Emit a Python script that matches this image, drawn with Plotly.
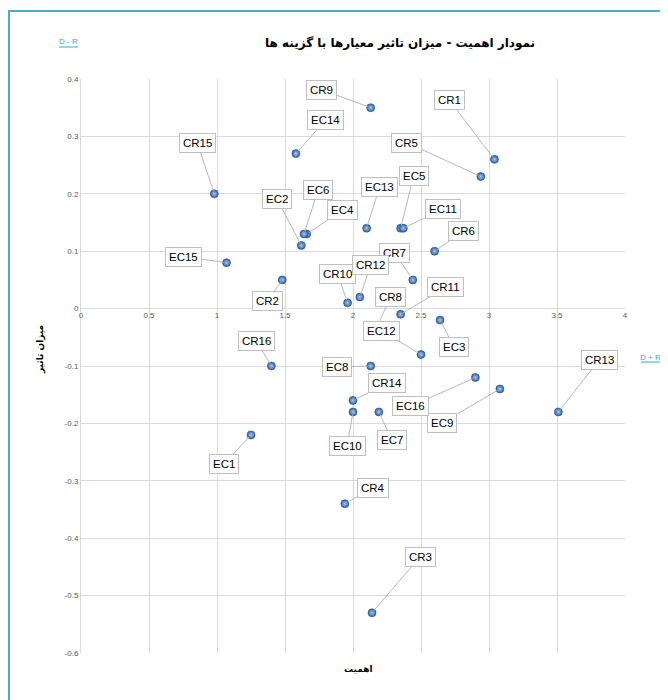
import plotly.graph_objects as go

# ---- data ----
names = ["CR1", "CR2", "CR3", "CR4", "CR5", "CR6", "CR7", "CR8",
         "CR9", "CR10", "CR11", "CR12", "CR13", "CR14", "CR15", "CR16",
         "EC1", "EC2", "EC3", "EC4", "EC5", "EC6", "EC7", "EC8",
         "EC9", "EC10", "EC11", "EC12", "EC13", "EC14", "EC15", "EC16"]
d_plus_r = [3.04, 1.48, 2.14, 1.94, 2.94, 2.60, 2.44, 2.18,
            2.13, 1.96, 2.35, 2.05, 3.51, 2.00, 0.98, 1.40,
            1.25, 1.62, 2.64, 1.66, 2.35, 1.64, 2.19, 2.13,
            3.08, 2.00, 2.37, 2.50, 2.10, 1.58, 1.07, 2.90]
d_minus_r = [0.26, 0.05, -0.53, -0.34, 0.23, 0.10, 0.05, -0.03,
             0.35, 0.01, -0.01, 0.02, -0.18, -0.16, 0.20, -0.10,
             -0.22, 0.11, -0.02, 0.13, 0.14, 0.13, -0.18, -0.10,
             -0.14, -0.18, 0.14, -0.08, 0.14, 0.27, 0.08, -0.12]
x_ticks = [0, 0.5, 1, 1.5, 2, 2.5, 3, 3.5, 4]
y_ticks = [0.4, 0.3, 0.2, 0.1, 0, -0.1, -0.2, -0.3, -0.4, -0.5, -0.6]

title_text = "نمودار اهمیت - میزان تاثیر معیارها با گزینه ها"
x_title = "اهمیت"
y_title = "میزان تاثیر"

# ---- label placement (pixel offsets of each callout from its point) ----
label_offsets = {
    "CR1": (-45, -59), "CR2": (-15, 21), "CR3": (48, -56), "CR4": (28, -16),
    "CR5": (-74, -34), "CR6": (29, -20), "CR7": (-18, -27), "CR8": (13, -29),
    "CR9": (-49, -18), "CR10": (-10, -29), "CR11": (45, -27), "CR12": (11, -32),
    "CR13": (41, -52), "CR14": (34, -17), "CR15": (-17, -51), "CR16": (-15, -25),
    "EC1": (-27, 29), "EC2": (-24, -46), "EC3": (14, 27), "EC4": (36, -24),
    "EC5": (13, -52), "EC6": (14, -44), "EC7": (13, 28), "EC8": (-34, 1),
    "EC9": (-58, 34), "EC10": (-6, 34), "EC11": (40, -19), "EC12": (-40, -24),
    "EC13": (13, -41), "EC14": (30, -34), "EC15": (-43, -6), "EC16": (-65, 29),
}

# page offset of the figure (default body margin of the html page)
OFF = 8
W, H = 668 - OFF, 700 - OFF
# plot area in page pixels: x 81..625, y 79..653
L, T = 81 - OFF, 79 - OFF
R = W - (625 - OFF)
B = H - (653 - OFF)
PW, PH = W - L - R, H - T - B


def px(X):
    """page pixel x -> paper"""
    return (X - OFF - L) / PW


def py(Y):
    """page pixel y -> paper"""
    return (H - B - (Y - OFF)) / PH


fig = go.Figure()
fig.add_trace(go.Scatter(
    x=d_plus_r, y=d_minus_r, mode="markers", text=names,
    marker=dict(size=8, color="#2e62a8",
                gradient=dict(type="radial", color="#a8c8f0"),
                line=dict(color="#24508c", width=0.6)),
    showlegend=False, hoverinfo="text+x+y",
))

annotations = []
for n, xv, yv in zip(names, d_plus_r, d_minus_r):
    ax, ay = label_offsets[n]
    annotations.append(dict(
        x=xv, y=yv, xref="x", yref="y", text=n, showarrow=True,
        ax=ax, ay=ay, arrowhead=0, arrowwidth=1, arrowcolor="#b8b8b8",
        standoff=3, startstandoff=0,
        font=dict(family="Liberation Sans, Arial, sans-serif", size=11.5, color="#000000"),
        bgcolor="#ffffff", bordercolor="#bfbfbf", borderwidth=1, borderpad=3,
    ))

# title and axis titles
annotations.append(dict(x=px(400), y=py(43), xref="paper", yref="paper", text="<b>" + title_text + "</b>",
                        showarrow=False, font=dict(family="DejaVu Sans, sans-serif", size=12, color="#000"),
                        xanchor="center", yanchor="middle"))
annotations.append(dict(x=px(358), y=py(669), xref="paper", yref="paper", text="<b>" + x_title + "</b>",
                        showarrow=False, font=dict(family="DejaVu Sans, sans-serif", size=9, color="#000"),
                        xanchor="center", yanchor="middle"))
annotations.append(dict(x=px(40), y=py(350), xref="paper", yref="paper", text="<b>" + y_title + "</b>",
                        showarrow=False, textangle=-90,
                        font=dict(family="DejaVu Sans, sans-serif", size=9, color="#000"),
                        xanchor="center", yanchor="middle"))
annotations.append(dict(x=px(68), y=py(42), xref="paper", yref="paper", text="D - R",
                        showarrow=False, font=dict(family="Liberation Sans, sans-serif", size=8, color="#29a9e0"),
                        xanchor="center", yanchor="middle"))
annotations.append(dict(x=px(650), y=py(357), xref="paper", yref="paper", text="D + R",
                        showarrow=False, font=dict(family="Liberation Sans, sans-serif", size=8, color="#29a9e0"),
                        xanchor="center", yanchor="middle"))

shapes = []
# underlines for the two link-like labels
shapes.append(dict(type="line", xref="paper", yref="paper", x0=px(59), x1=px(78), y0=py(47), y1=py(47),
                   line=dict(color="#29a9e0", width=1)))
shapes.append(dict(type="line", xref="paper", yref="paper", x0=px(641), x1=px(660), y0=py(362), y1=py(362),
                   line=dict(color="#29a9e0", width=1)))
# chart frame (blue border)
shapes.append(dict(type="line", xref="paper", yref="paper", x0=px(9), x1=px(9), y0=py(10), y1=py(700),
                   line=dict(color="#4bacc6", width=2)))
shapes.append(dict(type="line", xref="paper", yref="paper", x0=px(8), x1=px(668), y0=py(11), y1=py(11),
                   line=dict(color="#4bacc6", width=2)))

fig.update_layout(
    width=W, height=H,
    margin=dict(l=L, r=R, t=T, b=B, pad=0),
    paper_bgcolor="#ffffff", plot_bgcolor="#ffffff",
    annotations=annotations, shapes=shapes,
    xaxis=dict(range=[0, 4], tickvals=x_ticks, ticktext=[f"{v:g}" for v in x_ticks],
               showgrid=True, gridcolor="#d9d9d9", gridwidth=1, zeroline=False,
               showline=False, ticks="", anchor="free", position=0.6,
               tickfont=dict(family="Liberation Sans, sans-serif", size=8, color="#595959")),
    yaxis=dict(range=[-0.6, 0.4], tickvals=y_ticks, ticktext=[f"{v:g}" for v in y_ticks],
               showgrid=True, gridcolor="#d9d9d9", gridwidth=1, zeroline=False,
               showline=True, linecolor="#d9d9d9", ticks="",
               tickfont=dict(family="Liberation Sans, sans-serif", size=8, color="#595959")),
    hovermode="closest",
)

fig.write_html("out.html")
